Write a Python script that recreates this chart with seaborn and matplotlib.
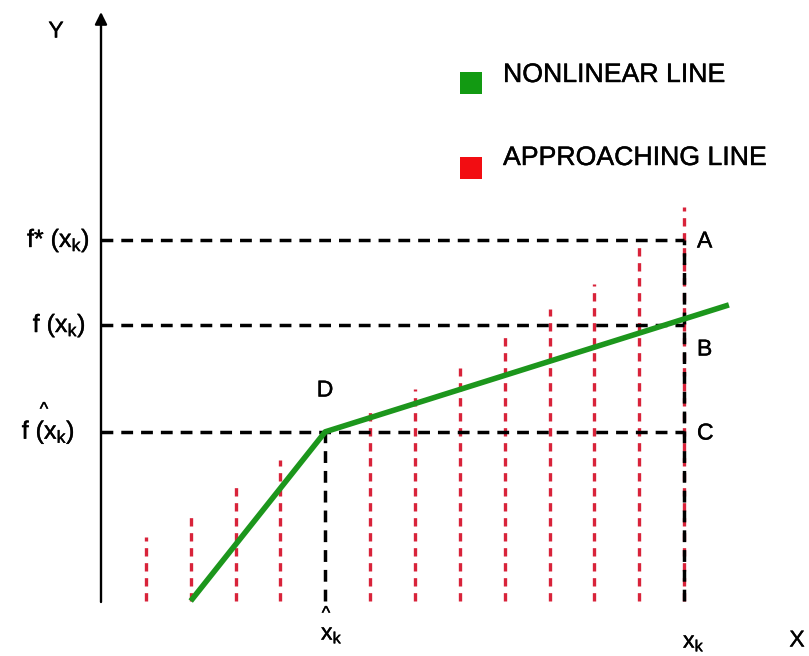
import matplotlib
matplotlib.use("Agg")
import matplotlib.pyplot as plt
import matplotlib.patheffects as pe
import seaborn as sns
import pandas as pd

# ---- data (x in bar-spacing units, y in same-ish units) ----
bar_x = [1, 2, 3, 4, 6, 7, 8, 9, 10, 11, 12, 13]
bar_h = [1.42, 1.91, 2.53, 3.13, 4.22, 4.71, 5.18, 6.0, 6.49, 7.04, 7.98, 8.76]
green_x = [2, 5, 14]
green_y = [0.0, 3.76, 6.58]
level_names = ["f* (x$_\\mathregular{k}$)", "f (x$_\\mathregular{k}$)", "f (x$_\\mathregular{k}$)"]
level_vals = [8.02, 6.13, 3.76]
point_labels = ["A", "B", "C"]
x_hat = 5
x_k = 13
legend_labels = ["NONLINEAR LINE", "APPROACHING LINE"]

# ---- pixel helpers for placing text ----
def X(px):
    return (px - 101) / 44.85

def Y(py):
    return (601 - py) / 45.0

sns.set_theme(style="white")
plt.rcParams["font.family"] = ["Liberation Sans", "DejaVu Sans"]
plt.rcParams["mathtext.fontset"] = "custom"
plt.rcParams["mathtext.rm"] = "Liberation Sans"
plt.rcParams["text.color"] = "black"

fig = plt.figure(figsize=(8.09, 6.56), dpi=100)
ax = fig.add_axes([0, 0, 1, 1])
ax.set_xlim(X(0), X(809))
ax.set_ylim(Y(656), Y(0))
ax.axis("off")

GREEN = "#1c961c"
RED = "#d8233a"
bold = [pe.withStroke(linewidth=0.3, foreground="black")]

# red approaching lines
ax.vlines(bar_x, 0, bar_h, colors=RED, linewidth=2.4,
          linestyles=[(0, (2.5, 2.0))], zorder=2)

# black dashed guide lines
bdash = (0, (3.4, 2.3))
for v in level_vals:
    ax.hlines(v, 0, x_k, colors="black", linewidth=2.5, linestyles=[bdash], zorder=3)
ax.vlines([x_hat], 0, level_vals[2], colors="black", linewidth=2.5, linestyles=[bdash], zorder=3)
ax.vlines([x_k], 0, level_vals[0], colors="black", linewidth=2.5, linestyles=[bdash], zorder=3)

# green nonlinear line
df = pd.DataFrame({"x": green_x, "y": green_y})
sns.lineplot(data=df, x="x", y="y", ax=ax, color=GREEN, linewidth=4.0,
             sort=False, zorder=4, solid_capstyle="butt")

# axes with arrows
ax.annotate("", xy=(X(811), 0), xytext=(X(100), 0),
            arrowprops=dict(arrowstyle="-|>", color="black", lw=1.7,
                            mutation_scale=18, shrinkA=0, shrinkB=0), zorder=5)
ax.annotate("", xy=(0, Y(12)), xytext=(0, Y(602)),
            arrowprops=dict(arrowstyle="-|>", color="black", lw=1.7,
                            mutation_scale=18, shrinkA=0, shrinkB=0), zorder=5)

fs = 16.5
# axis names
ax.text(X(56), Y(31), "Y", fontsize=fs, ha="center", va="center", path_effects=bold)
ax.text(X(797), Y(640), "X", fontsize=fs, ha="center", va="center", path_effects=bold)

# level labels on y axis
for name, v, rx in zip(level_names, level_vals, [90, 86, 75]):
    ax.text(X(rx), v, name, fontsize=18, ha="right", va="center", path_effects=bold)
ax.text(X(44), Y(410), "^", fontsize=13, ha="center", va="center", path_effects=bold)

# point labels
for lab, py in zip(point_labels, [241, 349, 433]):
    ax.text(X(697), Y(py), lab, fontsize=fs, ha="left", va="center", path_effects=bold)
ax.text(X(325), Y(390), "D", fontsize=fs, ha="center", va="center", path_effects=bold)

# x tick labels
ax.text(X(321), Y(634), "x$_\\mathregular{k}$", fontsize=fs, ha="left", va="center", path_effects=bold)
ax.text(X(326), Y(614), "^", fontsize=13, ha="center", va="center", path_effects=bold)
ax.text(X(683), Y(642), "x$_\\mathregular{k}$", fontsize=fs, ha="left", va="center", path_effects=bold)

# legend
ax.scatter([X(471)], [Y(83)], marker="s", s=270, color="#129a12", zorder=6, linewidths=0)
ax.scatter([X(471)], [Y(168)], marker="s", s=270, color="#f20d12", zorder=6, linewidths=0)
ax.text(X(503), Y(75), legend_labels[0], fontsize=19.2, ha="left", va="center", path_effects=bold)
ax.text(X(503), Y(158), legend_labels[1], fontsize=19.2, ha="left", va="center", path_effects=bold)

fig.savefig("out.png", dpi=100)
